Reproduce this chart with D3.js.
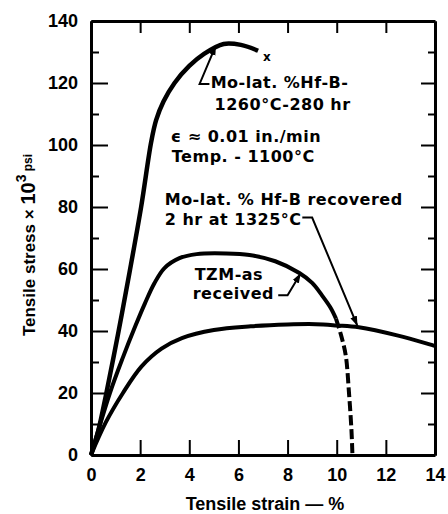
<!DOCTYPE html>
<html lang="en">
<head>
<meta charset="UTF-8">
<title>Tensile stress vs strain</title>
<script src="https://d3js.org/d3.v7.min.js"></script>
<style>
    body { margin: 0; background: #fff; }
    svg { display: block; }
    .tick text { font-family: "Liberation Sans", Arial, sans-serif; font-weight: bold; font-size: 18px; fill: #000; }
    .note { font-family: "DejaVu Sans", sans-serif; font-weight: bold; font-size: 16px; letter-spacing: 0.5px; fill: #000; }
    .axis-title { font-family: "Liberation Sans", Arial, sans-serif; font-weight: bold; fill: #000; }
</style>
</head>
<body>
<div id="chart"></div>
<script>
    // Curves: [strain %, stress ksi]
    const hfAged = [[0,0],[0.3,8],[0.6,19],[1.1,39],[1.57,59],[2.04,80],[2.45,101],[2.65,108],[2.95,114],[3.4,120],[4.0,125.5],[4.6,129.4],[5.4,132.6],[6.1,132.3],[6.8,130.4]];
    const tzm = [[0,0],[0.77,20],[1.3,31.5],[1.8,41.5],[2.2,49],[2.58,55.4],[2.99,60.3],[3.6,63.5],[4.3,64.8],[5.5,65],[6.45,64.5],[7.5,62.5],[8.48,58.7],[9.0,55.5],[9.4,51.5],[9.75,47.5],[9.97,44]];
    const tzmDashed = [[9.97,44],[10.2,38],[10.37,32],[10.5,20],[10.6,8],[10.64,0]];
    const hfRecovered = [[0,0],[0.6,10.5],[1.3,20],[2.05,28.5],[2.87,34.3],[3.7,37.7],[5.0,40.3],[6.5,41.5],[8.0,42.1],[9.15,42.2],[10.0,41.8],[10.9,41.2],[12.5,38.5],[13.95,35.3],[14,35.2]];

    const xTicks = [0, 2, 4, 6, 8, 10, 12, 14];
    const yTicks = [0, 20, 40, 60, 80, 100, 120, 140];
    const yMinor = [10, 30, 50, 70, 90, 110, 130];

    const W = 448, H = 514;
    const x = d3.scaleLinear().domain([0, 14]).range([91, 435]);
    const y = d3.scaleLinear().domain([0, 140]).range([455, 21]);

    const svg = d3.select("#chart").append("svg").attr("width", W).attr("height", H);

    // axes (ticks point inward)
    function styleAxis(g) {
        g.select(".domain").attr("stroke", "#000").attr("stroke-width", 3);
        g.selectAll(".tick line").attr("stroke", "#000").attr("stroke-width", 2);
    }
    svg.append("g").attr("transform", `translate(0,${y(0)})`)
        .call(d3.axisBottom(x).tickValues(xTicks).tickSize(-15).tickSizeOuter(0).tickPadding(13))
        .call(styleAxis);
    svg.append("g").attr("transform", `translate(0,${y(140)})`)
        .call(d3.axisTop(x).tickValues(xTicks.slice(1, -1)).tickSize(-12).tickSizeOuter(0).tickFormat(""))
        .call(styleAxis);
    svg.append("g").attr("transform", `translate(${x(0)},0)`)
        .call(d3.axisLeft(y).tickValues(yTicks).tickSize(-17).tickSizeOuter(0).tickPadding(13))
        .call(styleAxis);
    svg.append("g").attr("transform", `translate(${x(0)},0)`)
        .call(d3.axisLeft(y).tickValues(yMinor).tickSize(-8).tickSizeOuter(0).tickFormat(""))
        .call(styleAxis);
    svg.append("g").attr("transform", `translate(${x(14)},0)`)
        .call(d3.axisRight(y).tickValues(yTicks).tickSize(-14).tickSizeOuter(0).tickFormat(""))
        .call(styleAxis);
    svg.append("g").attr("transform", `translate(${x(14)},0)`)
        .call(d3.axisRight(y).tickValues(yMinor).tickSize(-7).tickSizeOuter(0).tickFormat(""))
        .call(styleAxis);

    // curves
    const line = d3.line().x(d => x(d[0])).y(d => y(d[1])).curve(d3.curveCatmullRom.alpha(0.5));
    const curves = [
        { data: hfAged, w: 4.5, dash: null },
        { data: tzm, w: 4, dash: null },
        { data: tzmDashed, w: 4, dash: "10,4" },
        { data: hfRecovered, w: 4, dash: null }
    ];
    svg.selectAll(".curve").data(curves).enter().append("path")
        .attr("class", "curve")
        .attr("d", d => line(d.data))
        .attr("fill", "none")
        .attr("stroke", "#000")
        .attr("stroke-width", d => d.w)
        .attr("stroke-linejoin", "round")
        .attr("stroke-dasharray", d => d.dash);

    // fracture mark
    svg.append("text").attr("class", "note").attr("x", x(7.0)).attr("y", y(127)).style("font-size", "12px").text("x");

    // leaders with arrows
    svg.append("defs").append("marker")
        .attr("id", "arr").attr("viewBox", "0 0 10 10").attr("refX", 9).attr("refY", 5)
        .attr("markerWidth", 5).attr("markerHeight", 5).attr("orient", "auto")
        .append("path").attr("d", "M0,1.5 L10,5 L0,8.5 z").attr("fill", "#000");

    const leaders = [
        [[x(4.82), y(119.7)], [x(4.42), y(119.7)], [x(5.07), y(131.9)]],
        [[x(8.6), y(76.6)], [x(9.0), y(76.6)], [x(10.83), y(41.9)]],
        [[x(7.62), y(51.5)], [x(8.0), y(51.5)], [x(8.52), y(58.4)]]
    ];
    svg.selectAll(".leader").data(leaders).enter().append("path")
        .attr("class", "leader")
        .attr("d", d => d3.line()(d))
        .attr("fill", "none").attr("stroke", "#000").attr("stroke-width", 2)
        .attr("marker-end", "url(#arr)");

    // notes
    const notes = [
        [4.87, 118.4, "Mo-lat. %Hf-B-"],
        [5.03, 111.3, "1260°C-280 hr"],
        [3.25, 101, "\u03f5 \u2248 0.01 in./min"],
        [3.29, 94.5, "Temp. - 1100°C"],
        [3.0, 80.6, "Mo-lat. % Hf-B recovered"],
        [3.0, 74.2, "2 hr at 1325°C"],
        [4.22, 56.5, "TZM-as"],
        [4.14, 50.2, "received"]
    ];
    svg.selectAll(".note-t").data(notes).enter().append("text")
        .attr("class", "note")
        .attr("x", d => x(d[0])).attr("y", d => y(d[1]))
        .text(d => d[2]);

    // axis titles
    svg.append("text").attr("class", "axis-title")
        .attr("x", 265).attr("y", 510).attr("text-anchor", "middle")
        .style("font-size", "18px").text("Tensile strain \u2014 %");

    const yt = svg.append("text").attr("class", "axis-title")
        .attr("transform", "translate(35,245) rotate(-90)").attr("text-anchor", "middle")
        .style("font-size", "17px");
    yt.append("tspan").text("Tensile stress \u00d7 ");
    yt.append("tspan").style("font-size", "20px").text("10");
    yt.append("tspan").style("font-size", "14px").attr("dy", -9).text("3");
    yt.append("tspan").style("font-size", "12px").attr("dy", 6).text(" psi");
</script>
</body>
</html>
